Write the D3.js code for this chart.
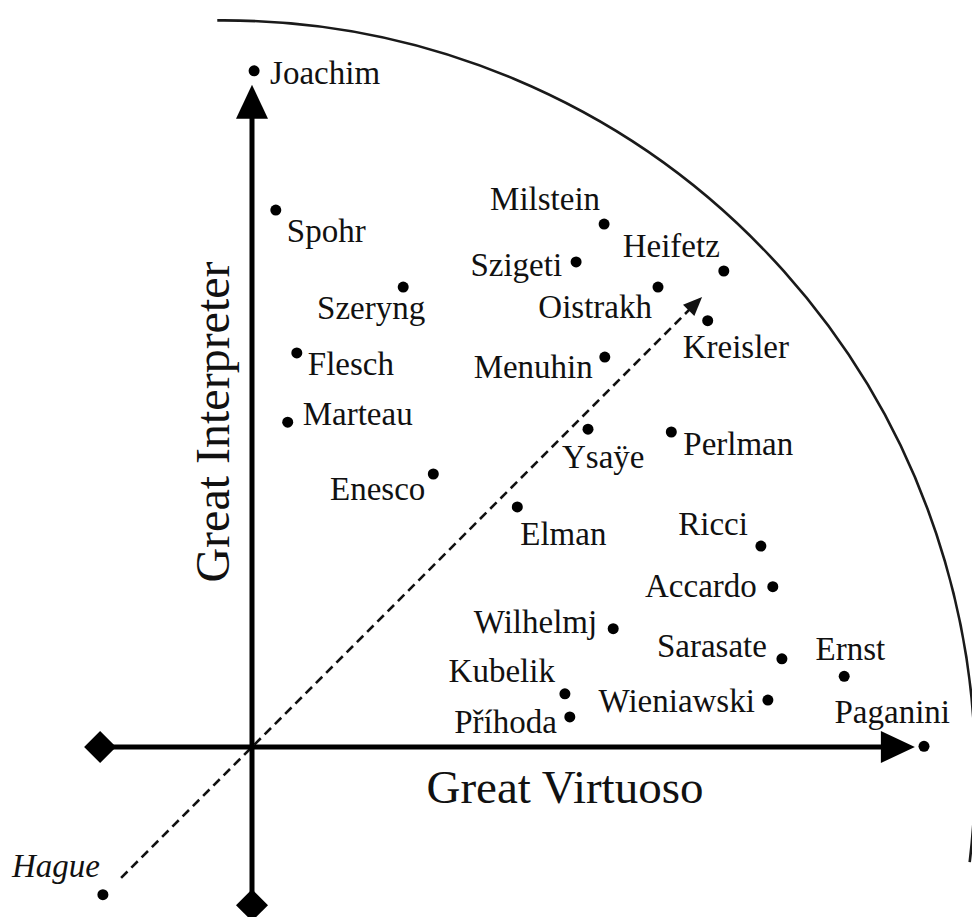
<!DOCTYPE html>
<html>
<head>
<meta charset="utf-8">
<script src="https://cdn.jsdelivr.net/npm/d3@7"></script>
<style>
  body { margin: 0; background: #fff; }
  svg { display: block; }
  text { font-family: "Liberation Serif", "Times New Roman", serif; fill: #111; }
</style>
</head>
<body>
<svg id="chart" width="972" height="917"></svg>
<script>
// Violinists placed on two qualities: virtuosity (x) and interpretation (y)
const violinists = [
  "Joachim", "Spohr", "Szeryng", "Flesch", "Marteau", "Enesco",
  "Milstein", "Szigeti", "Heifetz", "Oistrakh", "Kreisler", "Menuhin",
  "Ysaÿe", "Perlman", "Elman", "Ricci", "Accardo", "Wilhelmj",
  "Sarasate", "Ernst", "Kubelik", "Wieniawski", "Příhoda", "Paganini", "Hague"
];
const virtuosity = [
  0.03, 0.34, 2.16, 0.64, 0.51, 2.59,
  5.03, 4.63, 6.74, 5.80, 6.51, 5.04,
  4.80, 5.99, 3.79, 7.27, 7.44, 5.16,
  7.57, 8.46, 4.47, 7.37, 4.54, 9.60, -2.13
];
const interpretation = [
  9.66, 7.67, 6.57, 5.63, 4.64, 3.90,
  7.47, 6.93, 6.80, 6.57, 6.09, 5.57,
  4.54, 4.50, 3.43, 2.87, 2.29, 1.69,
  1.26, 1.01, 0.76, 0.67, 0.43, 0.01, -2.11
];
const italicNames = ["Hague"];
const axisTitles = ["Great Virtuoso", "Great Interpreter"];

// Extents of the drawn guides, in data units
const xAxisExtent = [-2.17, 9.47];
const yAxisExtent = [-2.26, 9.46];
const diagonalExtent = [-1.87, 6.43];
const boundaryCenter = [-0.41, -0.36];
const boundaryRadius = 10.74;

// Label placement: [text-anchor, dx, dy] relative to the dot
const labelPlacement = {
  "Joachim": ["start", 16, 13], "Spohr": ["start", 11, 32],
  "Szeryng": ["end", 22, 32], "Flesch": ["start", 11, 22],
  "Marteau": ["start", 15, 3], "Enesco": ["end", -8, 26],
  "Milstein": ["end", -4, -14], "Szigeti": ["end", -14, 14],
  "Heifetz": ["end", -4, -14], "Oistrakh": ["end", -6, 31],
  "Kreisler": ["start", -25, 37], "Menuhin": ["end", -12, 21],
  "Ysaÿe": ["start", -26, 39], "Perlman": ["start", 12, 23],
  "Elman": ["start", 3, 38], "Ricci": ["end", -13, -11],
  "Accardo": ["end", -16, 10], "Wilhelmj": ["end", -16, 4],
  "Sarasate": ["end", -15, -2], "Ernst": ["end", 41, -16],
  "Kubelik": ["end", -10, -12], "Wieniawski": ["end", -13, 12],
  "Příhoda": ["end", -13, 16], "Paganini": ["end", 26, -23],
  "Hague": ["end", -3, -18]
};

const svg = d3.select("#chart");
const x = d3.scaleLinear().domain([0, 10]).range([252, 952]);
const y = d3.scaleLinear().domain([0, 10]).range([747, 47]);

const data = violinists.map((name, i) => ({ name, vx: virtuosity[i], vy: interpretation[i] }));

// Outer boundary arc
const px = x(boundaryCenter[0]), py = y(boundaryCenter[1]);
const pr = x(boundaryRadius) - x(0);
const arcPath = d3.path();
arcPath.arc(px, py, pr, -Math.PI / 2 - 0.008, 0.12, false);
svg.append("path")
  .attr("d", arcPath.toString())
  .attr("fill", "none")
  .attr("stroke", "#1a1a1a")
  .attr("stroke-width", 2.6);

// Dashed diagonal with a small arrowhead
const d0 = [x(diagonalExtent[0]), y(diagonalExtent[0])];
const d1 = [x(diagonalExtent[1]), y(diagonalExtent[1])];
const ang = Math.atan2(d1[1] - d0[1], d1[0] - d0[0]);
const headLen = 19, headHalf = 8;
const back = [d1[0] - headLen * Math.cos(ang), d1[1] - headLen * Math.sin(ang)];
svg.append("line")
  .attr("x1", d0[0]).attr("y1", d0[1])
  .attr("x2", back[0] + 2 * Math.cos(ang)).attr("y2", back[1] + 2 * Math.sin(ang))
  .attr("stroke", "#111")
  .attr("stroke-width", 2.6)
  .attr("stroke-dasharray", "9,5.5");
svg.append("path")
  .attr("d", d3.line()([
    d1,
    [back[0] + headHalf * Math.sin(ang), back[1] - headHalf * Math.cos(ang)],
    [back[0] - headHalf * Math.sin(ang), back[1] + headHalf * Math.cos(ang)]
  ]) + "Z")
  .attr("fill", "#111");

// Axes
const axisW = 5, arrowLen = 34, arrowHalf = 16, diamondHalf = 16;
const ox = x(0), oy = y(0);
const xL = x(xAxisExtent[0]), xR = x(xAxisExtent[1]);
const yB = y(yAxisExtent[0]), yT = y(yAxisExtent[1]);
const axes = svg.append("g").attr("fill", "#000");
axes.append("line")
  .attr("x1", xL).attr("y1", oy).attr("x2", xR - arrowLen + 2).attr("y2", oy)
  .attr("stroke", "#000").attr("stroke-width", axisW);
axes.append("line")
  .attr("x1", ox).attr("y1", yB).attr("x2", ox).attr("y2", yT + arrowLen - 2)
  .attr("stroke", "#000").attr("stroke-width", axisW);
axes.append("path").attr("d", d3.line()([
  [xR, oy], [xR - arrowLen, oy - arrowHalf], [xR - arrowLen, oy + arrowHalf]]) + "Z");
axes.append("path").attr("d", d3.line()([
  [ox, yT], [ox - arrowHalf, yT + arrowLen], [ox + arrowHalf, yT + arrowLen]]) + "Z");
const diamond = (cx, cy) => d3.line()([
  [cx, cy - diamondHalf], [cx + diamondHalf, cy], [cx, cy + diamondHalf], [cx - diamondHalf, cy]]) + "Z";
axes.append("path").attr("d", diamond(xL, oy));
axes.append("path").attr("d", diamond(ox, yB));

// Axis titles
svg.append("text")
  .attr("x", 565).attr("y", 803)
  .attr("text-anchor", "middle")
  .attr("font-size", 47)
  .text(axisTitles[0]);
svg.append("text")
  .attr("transform", "translate(229,422) rotate(-90)")
  .attr("text-anchor", "middle")
  .attr("font-size", 48)
  .text(axisTitles[1]);

// Dots and names
const pts = svg.append("g");
pts.selectAll("circle")
  .data(data)
  .join("circle")
  .attr("cx", d => x(d.vx))
  .attr("cy", d => y(d.vy))
  .attr("r", 5.5)
  .attr("fill", "#000");
pts.selectAll("text")
  .data(data)
  .join("text")
  .attr("x", d => x(d.vx) + labelPlacement[d.name][1])
  .attr("y", d => y(d.vy) + labelPlacement[d.name][2])
  .attr("text-anchor", d => labelPlacement[d.name][0])
  .attr("font-size", 33)
  .attr("font-style", d => italicNames.includes(d.name) ? "italic" : "normal")
  .text(d => d.name);
</script>
</body>
</html>
